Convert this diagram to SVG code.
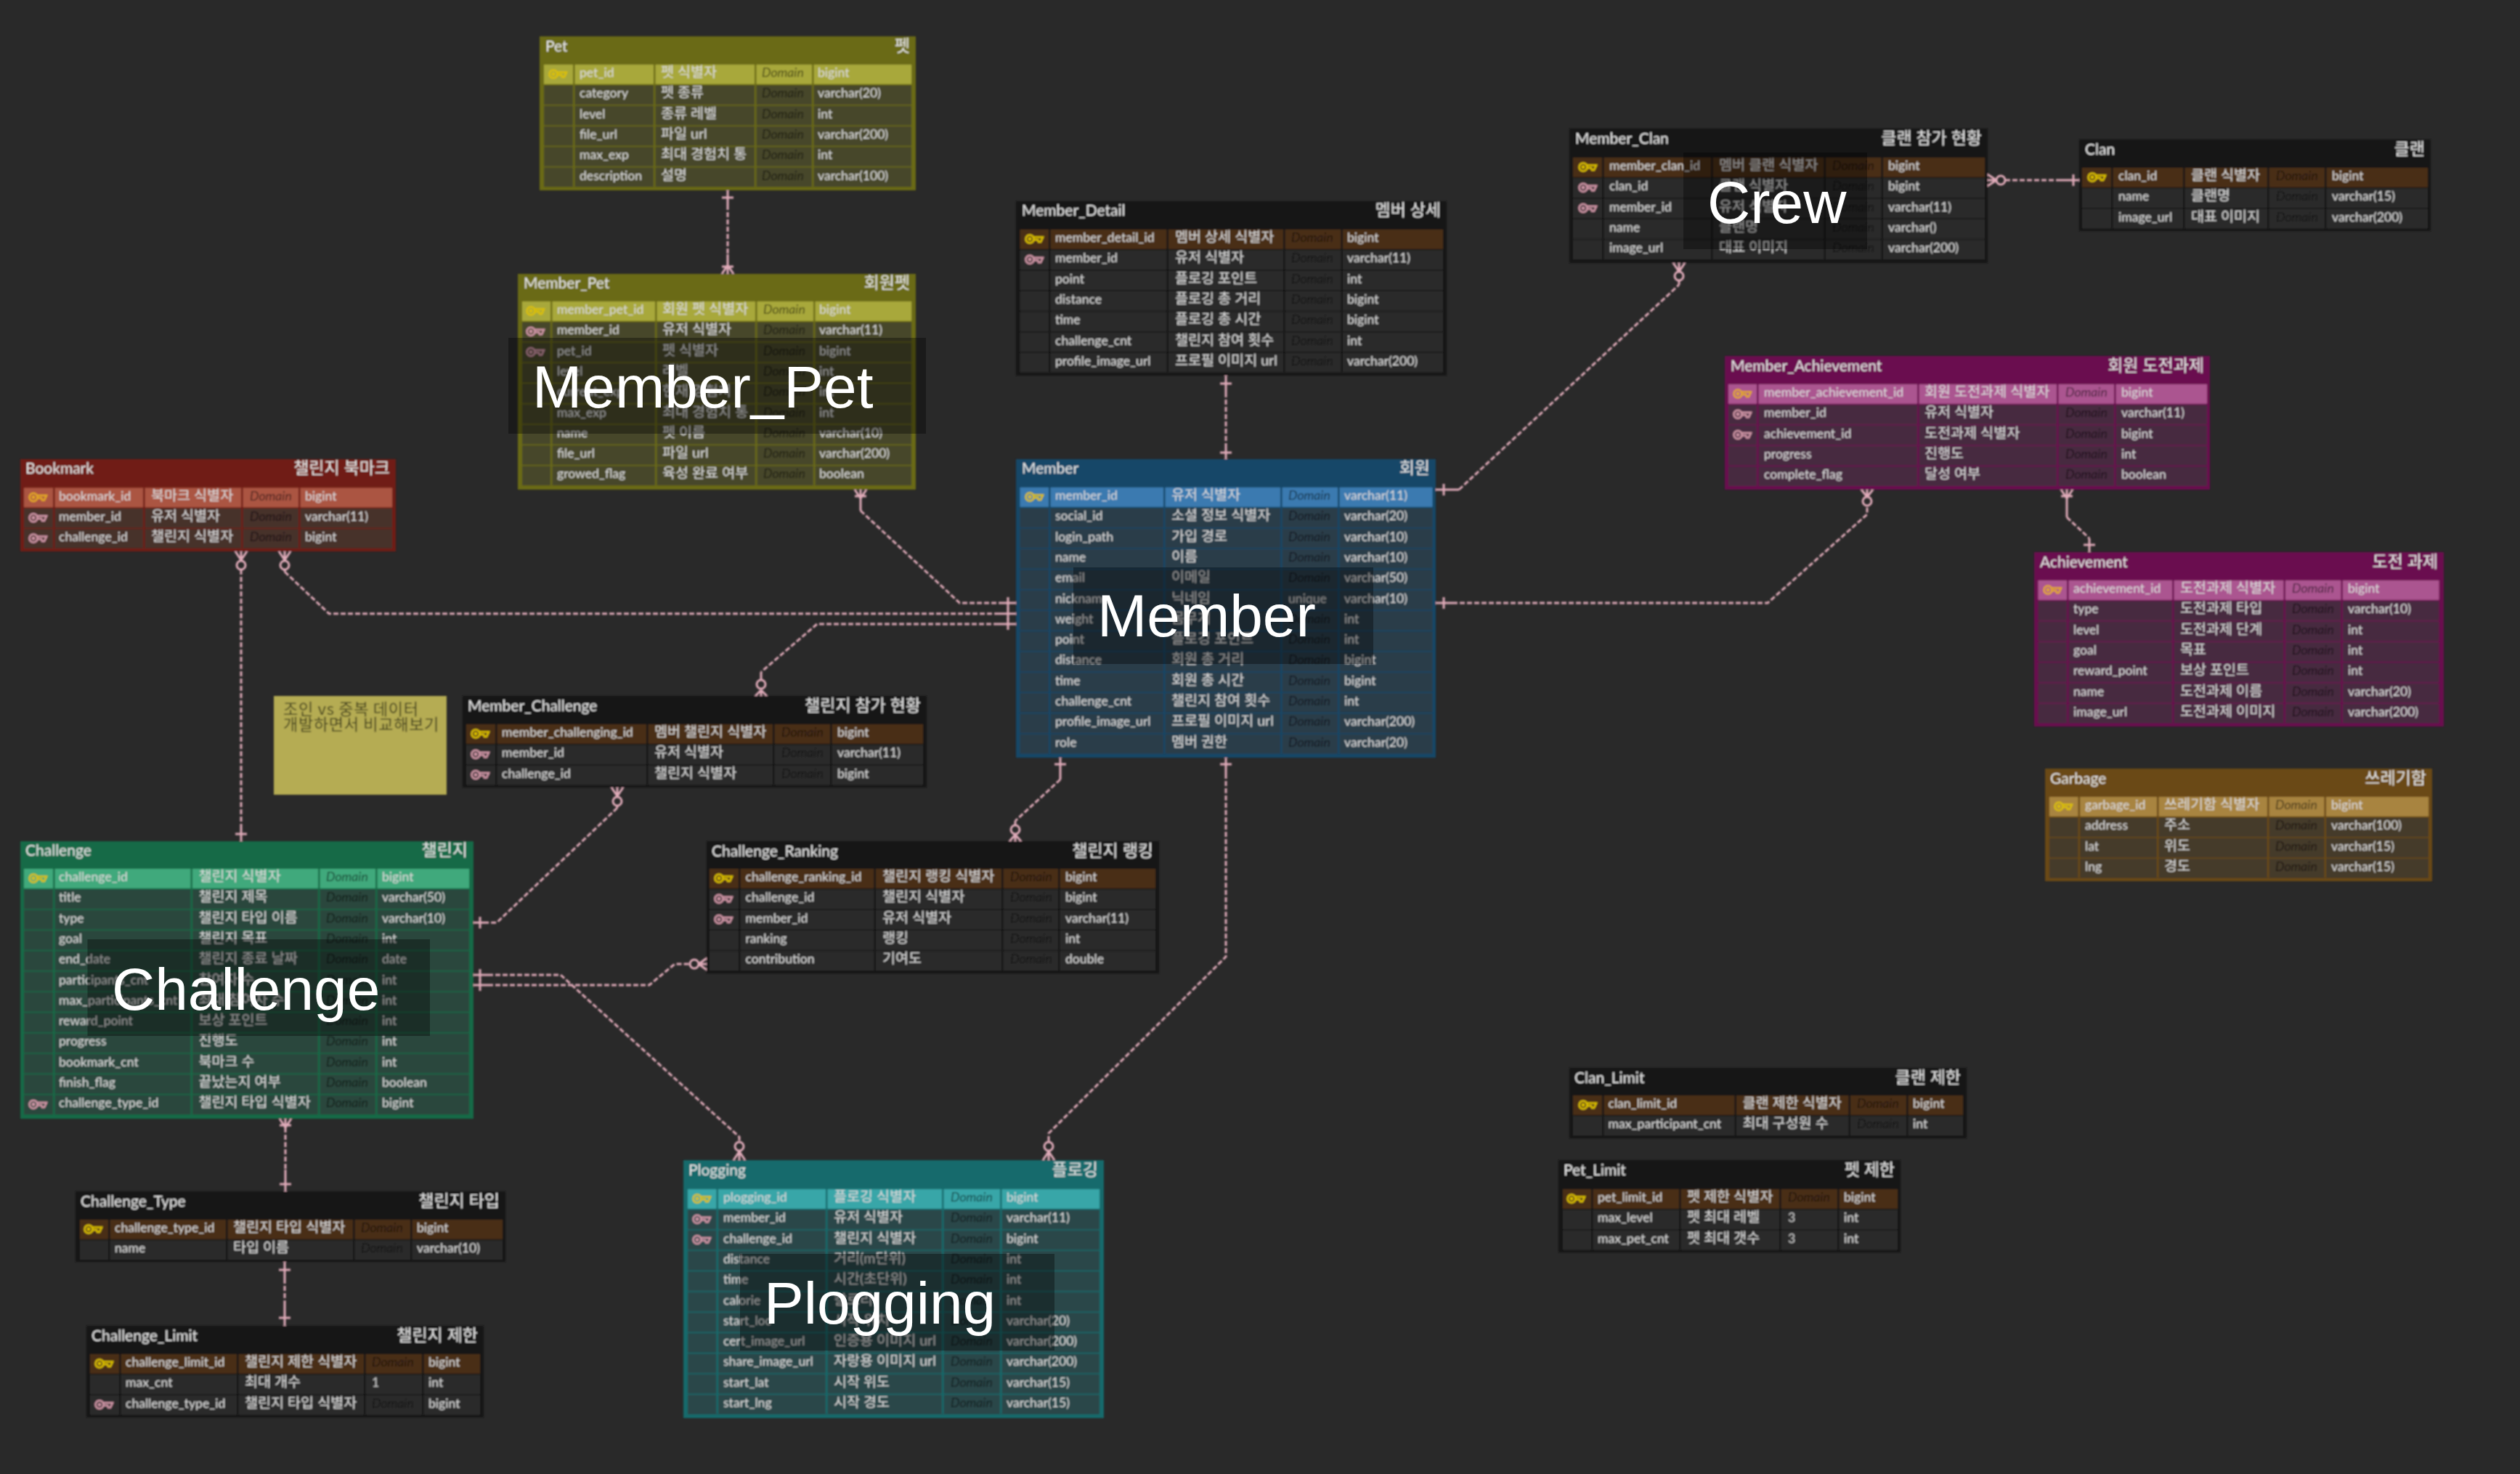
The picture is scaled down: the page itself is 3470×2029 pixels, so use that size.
<svg xmlns="http://www.w3.org/2000/svg" width="3470" height="2029" viewBox="0 0 3470 2029">
<style>
.bg{fill:#292929}
.olive{--h:#6b6a14;--p:#a8a83a;--r:#47472a}
.dark{--h:#181818;--p:#4a2e18;--r:#2c2c2c}
.blue{--h:#144668;--p:#3a7ab0;--r:#2b3c4a}
.plum{--h:#6b114f;--p:#ab5590;--r:#472a40}
.gold{--h:#6a4a12;--p:#a8843f;--r:#453a2a}
.red{--h:#701f12;--p:#ab5443;--r:#47302c}
.green{--h:#166a46;--p:#3fa97c;--r:#2a463c}
.teal{--h:#156a6c;--p:#38a6a8;--r:#2a4648}
.b,.g{fill:var(--h)}
.g{width:2.5px}
.p{fill:var(--p);height:26.8px}
.w{fill:var(--r);height:26.8px}
text{font-family:Lato,"Noto Sans CJK KR",sans-serif;font-size:17.6px;fill:#dcdcdc}
.h{font-size:21px;fill:#e6e6e6}
.e{font-size:23px;fill:#e6e6e6;text-anchor:end}
.k{font-size:19.6px}
.d{font-style:italic;fill:#000;fill-opacity:.6}
.v{fill:#c8c8c8}
.n{font-family:"Noto Sans CJK KR",sans-serif;font-size:22px;letter-spacing:.7px;fill:#3e3c1c}
.c{fill:none;stroke:#e0abb9;stroke-width:3;stroke-dasharray:7 3}
.s{fill:none;stroke:#e0abb9;stroke-width:3}
.cap{fill:#000;fill-opacity:.35}
.big{font-family:"Liberation Sans",sans-serif;font-size:82px;fill:#fff}
</style>
<defs>
<filter id="soft" x="0" y="0" width="3470" height="2029" filterUnits="userSpaceOnUse"><feGaussianBlur stdDeviation="1.1"/></filter>
<g id="kp" fill="none" stroke="#dcc000" stroke-width="2.5"><circle cx="7" cy="7" r="5.5"/><circle cx="7" cy="7" r="1.2"/><path d="M12 4.5H25L22 11H19L18 8H12"/></g>
<g id="ko" fill="none" stroke="#e4a824" stroke-width="2.5"><circle cx="7" cy="7" r="5.5"/><circle cx="7" cy="7" r="1.2"/><path d="M12 4.5H25L22 11H19L18 8H12"/></g>
<g id="kf" fill="none" stroke="#cf95a6" stroke-width="2.5"><circle cx="7" cy="7" r="5.5"/><circle cx="7" cy="7" r="1.2"/><path d="M12 4.5H25L22 11H19L18 8H12"/></g>
</defs>
<rect class="bg" width="3470" height="2029"/>
<g filter="url(#soft)">
<g id="connectors">
<g id="c-pet-memberpet"><path class="c" d="M1002 282V350"/><path class="s" d="M1002 262V282M994 272H1010M1002 350V377M994 367H1010M1002 365L994 377M1002 365L1010 377"/></g>
<g id="c-detail-member"><path class="c" d="M1688 540V610"/><path class="s" d="M1688 517V540M1680 528H1696M1688 610V632M1680 623H1696"/></g>
<g id="c-memberpet-member"><path class="c" d="M1185 703L1321.5 830H1375"/><path class="s" d="M1185 674V703M1177 683H1193M1185 686L1177 674M1185 686L1193 674M1375 830H1399M1388 822V838"/></g>
<g id="c-bookmark-member"><path class="c" d="M392 787L453 844.7H1375"/><path class="s" d="M392 759V771M392 771L384 759M392 771L400 759M392 784V787M1375 844.7H1399M1388 837V853"/><circle class="s" cx="392" cy="778" r="6"/></g>
<g id="c-memberchallenge-member"><path class="c" d="M1375 859H1125L1048 925"/><path class="s" d="M1375 859H1399M1388 851V867M1048 925V936M1048 950V958M1048 950L1040 958M1048 950L1056 958"/><circle class="s" cx="1048" cy="942" r="6"/></g>
<g id="c-bookmark-challenge"><path class="c" d="M332 784V1135"/><path class="s" d="M332 759V771M332 771L324 759M332 771L340 759M332 1135V1158M324 1148H340"/><circle class="s" cx="332" cy="778" r="6"/></g>
<g id="c-memberchallenge-challenge"><path class="c" d="M850 1112L684 1270H672"/><path class="s" d="M850 1084V1096M850 1096L842 1084M850 1096L858 1084M850 1109V1112M672 1270H652M661 1262V1278"/><circle class="s" cx="850" cy="1103" r="6"/></g>
<g id="c-challenge-ranking"><path class="c" d="M672 1356H894L929 1327H950"/><path class="s" d="M652 1356H672M661 1348V1364M962 1327H973M962 1327L973 1319M962 1327L973 1335"/><circle class="s" cx="956" cy="1327" r="6"/></g>
<g id="c-challenge-plogging"><path class="c" d="M672 1342H772L1018 1565V1572"/><path class="s" d="M652 1342H672M661 1334V1350M1018 1585V1597M1018 1585L1010 1597M1018 1585L1026 1597"/><circle class="s" cx="1018" cy="1578" r="6"/></g>
<g id="c-member-plogging"><path class="c" d="M1688 1065V1317L1444 1560V1572"/><path class="s" d="M1688 1043V1065M1680 1052H1696M1444 1585V1597M1444 1585L1436 1597M1444 1585L1452 1597"/><circle class="s" cx="1444" cy="1578" r="6"/></g>
<g id="c-member-ranking"><path class="c" d="M1460 1073L1398 1130"/><path class="s" d="M1460 1043V1073M1452 1052H1468M1398 1130V1136M1398 1149V1158M1398 1149L1390 1158M1398 1149L1406 1158"/><circle class="s" cx="1398" cy="1142" r="6"/></g>
<g id="c-member-memberclan"><path class="c" d="M2009 674L2312 392"/><path class="s" d="M1977 674H2009M1988 666V682M2312 392V386M2312 374V362M2312 374L2304 362M2312 374L2320 362"/><circle class="s" cx="2312" cy="380" r="6"/></g>
<g id="c-member-memberachievement"><path class="c" d="M2000 830H2434L2571 708V696"/><path class="s" d="M1977 830H2000M1988 822V838M2571 684V674M2571 684L2563 674M2571 684L2579 674"/><circle class="s" cx="2571" cy="690" r="6"/></g>
<g id="c-memberachievement-achievement"><path class="c" d="M2846 712L2877 741"/><path class="s" d="M2846 674V712M2838 683H2854M2846 686L2838 674M2846 686L2854 674M2877 741V760M2869 750H2885"/></g>
<g id="c-memberclan-clan"><path class="c" d="M2761 248H2835"/><path class="s" d="M2737 248H2749M2749 248L2737 240M2749 248L2737 256M2835 248H2863M2855 240V256"/><circle class="s" cx="2755" cy="248" r="6"/></g>
<g id="c-challenge-type"><path class="c" d="M393 1552V1610"/><path class="s" d="M393 1540V1552M385 1549H401M393 1552L385 1540M393 1552L401 1540M393 1610V1640M385 1630H401"/></g>
<g id="c-type-limit"><path class="c" d="M392 1760V1795"/><path class="s" d="M392 1737V1760M384 1748H400M392 1795V1825M384 1814H400"/></g>
</g>

<g id="pet" class="olive" transform="translate(743,50)"><rect class="b" width="518" height="212"/><text class="h" x="8" y="21">Pet</text><text class="e" x="510" y="21">펫</text>
<g transform="translate(0,39)"><rect class="p" x="6" width="506" height="26"/><use href="#kp" x="12" y="6"/><text x="55" y="17">pet_id</text><text class="k" x="167" y="17">펫 식별자</text><text class="d" x="306" y="17">Domain</text><text x="383" y="17">bigint</text></g>
<g transform="translate(0,67.3)"><rect class="w" x="6" width="506" height="26"/><text x="55" y="17">category</text><text class="k" x="167" y="17">펫 종류</text><text class="d" x="306" y="17">Domain</text><text x="383" y="17">varchar(20)</text></g>
<g transform="translate(0,95.6)"><rect class="w" x="6" width="506" height="26"/><text x="55" y="17">level</text><text class="k" x="167" y="17">종류 레벨</text><text class="d" x="306" y="17">Domain</text><text x="383" y="17">int</text></g>
<g transform="translate(0,123.9)"><rect class="w" x="6" width="506" height="26"/><text x="55" y="17">file_url</text><text class="k" x="167" y="17">파일 url</text><text class="d" x="306" y="17">Domain</text><text x="383" y="17">varchar(200)</text></g>
<g transform="translate(0,152.2)"><rect class="w" x="6" width="506" height="26"/><text x="55" y="17">max_exp</text><text class="k" x="167" y="17">최대 경험치 통</text><text class="d" x="306" y="17">Domain</text><text x="383" y="17">int</text></g>
<g transform="translate(0,180.5)"><rect class="w" x="6" width="506" height="26"/><text x="55" y="17">description</text><text class="k" x="167" y="17">설명</text><text class="d" x="306" y="17">Domain</text><text x="383" y="17">varchar(100)</text></g>
<rect class="g" x="46" y="39" width="3" height="168"/><rect class="g" x="157" y="39" width="3" height="168"/><rect class="g" x="296" y="39" width="3" height="168"/><rect class="g" x="375" y="39" width="3" height="168"/></g>

<g id="member_pet" class="olive" transform="translate(713,377)"><rect class="b" width="548" height="297"/><text class="h" x="8" y="20">Member_Pet</text><text class="e" x="540" y="20">회원펫</text>
<g transform="translate(0,38)"><rect class="p" x="6" width="536" height="26"/><use href="#kp" x="11" y="6"/><text x="54" y="17">member_pet_id</text><text class="k" x="199" y="17">회원 펫 식별자</text><text class="d" x="338" y="17">Domain</text><text x="415" y="17">bigint</text></g>
<g transform="translate(0,66.3)"><rect class="w" x="6" width="536" height="26"/><use href="#kf" x="11" y="6"/><text x="54" y="17">member_id</text><text class="k" x="199" y="17">유저 식별자</text><text class="d" x="338" y="17">Domain</text><text x="415" y="17">varchar(11)</text></g>
<g transform="translate(0,94.6)"><rect class="w" x="6" width="536" height="26"/><use href="#kf" x="11" y="6"/><text x="54" y="17">pet_id</text><text class="k" x="199" y="17">펫 식별자</text><text class="d" x="338" y="17">Domain</text><text x="415" y="17">bigint</text></g>
<g transform="translate(0,122.9)"><rect class="w" x="6" width="536" height="26"/><text x="54" y="17">level</text><text class="k" x="199" y="17">레벨</text><text class="d" x="338" y="17">Domain</text><text x="415" y="17">int</text></g>
<g transform="translate(0,151.2)"><rect class="w" x="6" width="536" height="26"/><text x="54" y="17">current_exp</text><text class="k" x="199" y="17">현재 경험치</text><text class="d" x="338" y="17">Domain</text><text x="415" y="17">int</text></g>
<g transform="translate(0,179.5)"><rect class="w" x="6" width="536" height="26"/><text x="54" y="17">max_exp</text><text class="k" x="199" y="17">최대 경험치 통</text><text class="d" x="338" y="17">Domain</text><text x="415" y="17">int</text></g>
<g transform="translate(0,207.8)"><rect class="w" x="6" width="536" height="26"/><text x="54" y="17">name</text><text class="k" x="199" y="17">펫 이름</text><text class="d" x="338" y="17">Domain</text><text x="415" y="17">varchar(10)</text></g>
<g transform="translate(0,236.1)"><rect class="w" x="6" width="536" height="26"/><text x="54" y="17">file_url</text><text class="k" x="199" y="17">파일 url</text><text class="d" x="338" y="17">Domain</text><text x="415" y="17">varchar(200)</text></g>
<g transform="translate(0,264.4)"><rect class="w" x="6" width="536" height="26"/><text x="54" y="17">growed_flag</text><text class="k" x="199" y="17">육성 완료 여부</text><text class="d" x="338" y="17">Domain</text><text x="415" y="17">boolean</text></g>
<rect class="g" x="45" y="38" width="3" height="253"/><rect class="g" x="189" y="38" width="3" height="253"/><rect class="g" x="327" y="38" width="3" height="253"/><rect class="g" x="407" y="38" width="3" height="253"/></g>

<g id="member_detail" class="dark" transform="translate(1399,277)"><rect class="b" width="593" height="240"/><text class="h" x="8" y="20">Member_Detail</text><text class="e" x="585" y="20">멤버 상세</text>
<g transform="translate(0,39)"><rect class="p" x="5.5" width="582.5" height="26"/><use href="#kp" x="12" y="6"/><text x="54" y="17">member_detail_id</text><text class="k" x="219" y="17">멤버 상세 식별자</text><text class="d" x="379" y="17">Domain</text><text x="456" y="17">bigint</text></g>
<g transform="translate(0,67.3)"><rect class="w" x="5.5" width="582.5" height="26"/><use href="#kf" x="12" y="6"/><text x="54" y="17">member_id</text><text class="k" x="219" y="17">유저 식별자</text><text class="d" x="379" y="17">Domain</text><text x="456" y="17">varchar(11)</text></g>
<g transform="translate(0,95.6)"><rect class="w" x="5.5" width="582.5" height="26"/><text x="54" y="17">point</text><text class="k" x="219" y="17">플로깅 포인트</text><text class="d" x="379" y="17">Domain</text><text x="456" y="17">int</text></g>
<g transform="translate(0,123.9)"><rect class="w" x="5.5" width="582.5" height="26"/><text x="54" y="17">distance</text><text class="k" x="219" y="17">플로깅 총 거리</text><text class="d" x="379" y="17">Domain</text><text x="456" y="17">bigint</text></g>
<g transform="translate(0,152.2)"><rect class="w" x="5.5" width="582.5" height="26"/><text x="54" y="17">time</text><text class="k" x="219" y="17">플로깅 총 시간</text><text class="d" x="379" y="17">Domain</text><text x="456" y="17">bigint</text></g>
<g transform="translate(0,180.5)"><rect class="w" x="5.5" width="582.5" height="26"/><text x="54" y="17">challenge_cnt</text><text class="k" x="219" y="17">챌린지 참여 횟수</text><text class="d" x="379" y="17">Domain</text><text x="456" y="17">int</text></g>
<g transform="translate(0,208.8)"><rect class="w" x="5.5" width="582.5" height="26"/><text x="54" y="17">profile_image_url</text><text class="k" x="219" y="17">프로필 이미지 url</text><text class="d" x="379" y="17">Domain</text><text x="456" y="17">varchar(200)</text></g>
<rect class="g" x="45" y="39" width="3" height="196"/><rect class="g" x="207.5" y="39" width="4" height="196"/><rect class="g" x="368" y="39" width="3" height="196"/><rect class="g" x="447.5" y="39" width="3" height="196"/></g>

<g id="member" class="blue" transform="translate(1399,632)"><rect class="b" width="578" height="411"/><text class="h" x="8" y="20">Member</text><text class="e" x="570" y="20">회원</text>
<g transform="translate(0,39)"><rect class="p" x="5.5" width="568" height="26"/><use href="#kp" x="12" y="6"/><text x="54" y="17">member_id</text><text class="k" x="214" y="17">유저 식별자</text><text class="d" x="375" y="17">Domain</text><text x="452" y="17">varchar(11)</text></g>
<g transform="translate(0,67.3)"><rect class="w" x="5.5" width="568" height="26"/><text x="54" y="17">social_id</text><text class="k" x="214" y="17">소셜 정보 식별자</text><text class="d" x="375" y="17">Domain</text><text x="452" y="17">varchar(20)</text></g>
<g transform="translate(0,95.6)"><rect class="w" x="5.5" width="568" height="26"/><text x="54" y="17">login_path</text><text class="k" x="214" y="17">가입 경로</text><text class="d" x="375" y="17">Domain</text><text x="452" y="17">varchar(10)</text></g>
<g transform="translate(0,123.9)"><rect class="w" x="5.5" width="568" height="26"/><text x="54" y="17">name</text><text class="k" x="214" y="17">이름</text><text class="d" x="375" y="17">Domain</text><text x="452" y="17">varchar(10)</text></g>
<g transform="translate(0,152.2)"><rect class="w" x="5.5" width="568" height="26"/><text x="54" y="17">email</text><text class="k" x="214" y="17">이메일</text><text class="d" x="375" y="17">Domain</text><text x="452" y="17">varchar(50)</text></g>
<g transform="translate(0,180.5)"><rect class="w" x="5.5" width="568" height="26"/><text x="54" y="17">nickname</text><text class="k" x="214" y="17">닉네임</text><text class="v" x="375" y="17">unique</text><text x="452" y="17">varchar(10)</text></g>
<g transform="translate(0,208.8)"><rect class="w" x="5.5" width="568" height="26"/><text x="54" y="17">weight</text><text class="k" x="214" y="17">몸무게</text><text class="d" x="375" y="17">Domain</text><text x="452" y="17">int</text></g>
<g transform="translate(0,237.1)"><rect class="w" x="5.5" width="568" height="26"/><text x="54" y="17">point</text><text class="k" x="214" y="17">플로깅 포인트</text><text class="d" x="375" y="17">Domain</text><text x="452" y="17">int</text></g>
<g transform="translate(0,265.4)"><rect class="w" x="5.5" width="568" height="26"/><text x="54" y="17">distance</text><text class="k" x="214" y="17">회원 총 거리</text><text class="d" x="375" y="17">Domain</text><text x="452" y="17">bigint</text></g>
<g transform="translate(0,293.7)"><rect class="w" x="5.5" width="568" height="26"/><text x="54" y="17">time</text><text class="k" x="214" y="17">회원 총 시간</text><text class="d" x="375" y="17">Domain</text><text x="452" y="17">bigint</text></g>
<g transform="translate(0,322)"><rect class="w" x="5.5" width="568" height="26"/><text x="54" y="17">challenge_cnt</text><text class="k" x="214" y="17">챌린지 참여 횟수</text><text class="d" x="375" y="17">Domain</text><text x="452" y="17">int</text></g>
<g transform="translate(0,350.3)"><rect class="w" x="5.5" width="568" height="26"/><text x="54" y="17">profile_image_url</text><text class="k" x="214" y="17">프로필 이미지 url</text><text class="d" x="375" y="17">Domain</text><text x="452" y="17">varchar(200)</text></g>
<g transform="translate(0,378.6)"><rect class="w" x="5.5" width="568" height="26"/><text x="54" y="17">role</text><text class="k" x="214" y="17">멤버 권한</text><text class="d" x="375" y="17">Domain</text><text x="452" y="17">varchar(20)</text></g>
<rect class="g" x="45" y="39" width="3" height="366"/><rect class="g" x="203" y="39" width="4" height="366"/><rect class="g" x="364" y="39" width="3" height="366"/><rect class="g" x="443" y="39" width="3" height="366"/></g>

<g id="member_clan" class="dark" transform="translate(2161,177)"><rect class="b" width="576" height="185"/><text class="h" x="8" y="21">Member_Clan</text><text class="e" x="568" y="21">클랜 참가 현황</text>
<g transform="translate(0,40)"><rect class="p" x="5" width="567" height="26"/><use href="#kp" x="12" y="6"/><text x="55" y="17">member_clan_id</text><text class="k" x="206" y="17">멤버 클랜 식별자</text><text class="d" x="362" y="17">Domain</text><text x="439" y="17">bigint</text></g>
<g transform="translate(0,68.3)"><rect class="w" x="5" width="567" height="26"/><use href="#kf" x="12" y="6"/><text x="55" y="17">clan_id</text><text class="k" x="206" y="17">클랜 식별자</text><text class="d" x="362" y="17">Domain</text><text x="439" y="17">bigint</text></g>
<g transform="translate(0,96.6)"><rect class="w" x="5" width="567" height="26"/><use href="#kf" x="12" y="6"/><text x="55" y="17">member_id</text><text class="k" x="206" y="17">유저 식별자</text><text class="d" x="362" y="17">Domain</text><text x="439" y="17">varchar(11)</text></g>
<g transform="translate(0,124.9)"><rect class="w" x="5" width="567" height="26"/><text x="55" y="17">name</text><text class="k" x="206" y="17">클랜명</text><text class="d" x="362" y="17">Domain</text><text x="439" y="17">varchar()</text></g>
<g transform="translate(0,153.2)"><rect class="w" x="5" width="567" height="26"/><text x="55" y="17">image_url</text><text class="k" x="206" y="17">대표 이미지</text><text class="d" x="362" y="17">Domain</text><text x="439" y="17">varchar(200)</text></g>
<rect class="g" x="45" y="40" width="3" height="140"/><rect class="g" x="195" y="40" width="4" height="140"/><rect class="g" x="350.5" y="40" width="4" height="140"/><rect class="g" x="429.5" y="40" width="4" height="140"/></g>

<g id="clan" class="dark" transform="translate(2863,192)"><rect class="b" width="484" height="126"/><text class="h" x="8" y="21">Clan</text><text class="e" x="476" y="21">클랜</text>
<g transform="translate(0,39)"><rect class="p" x="4" width="476" height="26"/><use href="#kp" x="11" y="6"/><text x="54" y="17">clan_id</text><text class="k" x="154" y="17">클랜 식별자</text><text class="d" x="271" y="17">Domain</text><text x="348" y="17">bigint</text></g>
<g transform="translate(0,67.3)"><rect class="w" x="4" width="476" height="26"/><text x="54" y="17">name</text><text class="k" x="154" y="17">클랜명</text><text class="d" x="271" y="17">Domain</text><text x="348" y="17">varchar(15)</text></g>
<g transform="translate(0,95.6)"><rect class="w" x="4" width="476" height="26"/><text x="54" y="17">image_url</text><text class="k" x="154" y="17">대표 이미지</text><text class="d" x="271" y="17">Domain</text><text x="348" y="17">varchar(200)</text></g>
<rect class="g" x="44" y="39" width="3" height="83"/><rect class="g" x="143" y="39" width="4" height="83"/><rect class="g" x="259" y="39" width="4" height="83"/><rect class="g" x="338" y="39" width="4" height="83"/></g>

<g id="member_achievement" class="plum" transform="translate(2375,490)"><rect class="b" width="668" height="184"/><text class="h" x="8" y="21">Member_Achievement</text><text class="e" x="660" y="21">회원 도전과제</text>
<g transform="translate(0,39)"><rect class="p" x="5" width="659" height="26"/><use href="#ko" x="11" y="6"/><text x="54" y="17">member_achievement_id</text><text class="k" x="275" y="17">회원 도전과제 식별자</text><text class="d" x="469" y="17">Domain</text><text x="546" y="17">bigint</text></g>
<g transform="translate(0,67.3)"><rect class="w" x="5" width="659" height="26"/><use href="#kf" x="11" y="6"/><text x="54" y="17">member_id</text><text class="k" x="275" y="17">유저 식별자</text><text class="d" x="469" y="17">Domain</text><text x="546" y="17">varchar(11)</text></g>
<g transform="translate(0,95.6)"><rect class="w" x="5" width="659" height="26"/><use href="#kf" x="11" y="6"/><text x="54" y="17">achievement_id</text><text class="k" x="275" y="17">도전과제 식별자</text><text class="d" x="469" y="17">Domain</text><text x="546" y="17">bigint</text></g>
<g transform="translate(0,123.9)"><rect class="w" x="5" width="659" height="26"/><text x="54" y="17">progress</text><text class="k" x="275" y="17">진행도</text><text class="d" x="469" y="17">Domain</text><text x="546" y="17">int</text></g>
<g transform="translate(0,152.2)"><rect class="w" x="5" width="659" height="26"/><text x="54" y="17">complete_flag</text><text class="k" x="275" y="17">달성 여부</text><text class="d" x="469" y="17">Domain</text><text x="546" y="17">boolean</text></g>
<rect class="g" x="44" y="39" width="3" height="140"/><rect class="g" x="265" y="39" width="4" height="140"/><rect class="g" x="457" y="39" width="4" height="140"/><rect class="g" x="536" y="39" width="4" height="140"/></g>

<g id="achievement" class="plum" transform="translate(2801,760)"><rect class="b" width="564" height="240"/><text class="h" x="8" y="21">Achievement</text><text class="e" x="556" y="21">도전 과제</text>
<g transform="translate(0,39)"><rect class="p" x="5.5" width="552" height="26"/><use href="#ko" x="12" y="6"/><text x="54" y="17">achievement_id</text><text class="k" x="201" y="17">도전과제 식별자</text><text class="d" x="355" y="17">Domain</text><text x="432" y="17">bigint</text></g>
<g transform="translate(0,67.3)"><rect class="w" x="5.5" width="552" height="26"/><text x="54" y="17">type</text><text class="k" x="201" y="17">도전과제 타입</text><text class="d" x="355" y="17">Domain</text><text x="432" y="17">varchar(10)</text></g>
<g transform="translate(0,95.6)"><rect class="w" x="5.5" width="552" height="26"/><text x="54" y="17">level</text><text class="k" x="201" y="17">도전과제 단계</text><text class="d" x="355" y="17">Domain</text><text x="432" y="17">int</text></g>
<g transform="translate(0,123.9)"><rect class="w" x="5.5" width="552" height="26"/><text x="54" y="17">goal</text><text class="k" x="201" y="17">목표</text><text class="d" x="355" y="17">Domain</text><text x="432" y="17">int</text></g>
<g transform="translate(0,152.2)"><rect class="w" x="5.5" width="552" height="26"/><text x="54" y="17">reward_point</text><text class="k" x="201" y="17">보상 포인트</text><text class="d" x="355" y="17">Domain</text><text x="432" y="17">int</text></g>
<g transform="translate(0,180.5)"><rect class="w" x="5.5" width="552" height="26"/><text x="54" y="17">name</text><text class="k" x="201" y="17">도전과제 이름</text><text class="d" x="355" y="17">Domain</text><text x="432" y="17">varchar(20)</text></g>
<g transform="translate(0,208.8)"><rect class="w" x="5.5" width="552" height="26"/><text x="54" y="17">image_url</text><text class="k" x="201" y="17">도전과제 이미지</text><text class="d" x="355" y="17">Domain</text><text x="432" y="17">varchar(200)</text></g>
<rect class="g" x="45" y="39" width="3" height="196"/><rect class="g" x="190" y="39" width="4" height="196"/><rect class="g" x="343.5" y="39" width="4" height="196"/><rect class="g" x="422.5" y="39" width="4" height="196"/></g>

<g id="garbage" class="gold" transform="translate(2816,1058)"><rect class="b" width="533" height="155"/><text class="h" x="7" y="21">Garbage</text><text class="e" x="525" y="21">쓰레기함</text>
<g transform="translate(0,39)"><rect class="p" x="6" width="522" height="26"/><use href="#kp" x="12" y="6"/><text x="55" y="17">garbage_id</text><text class="k" x="164" y="17">쓰레기함 식별자</text><text class="d" x="317" y="17">Domain</text><text x="394" y="17">bigint</text></g>
<g transform="translate(0,67.3)"><rect class="w" x="6" width="522" height="26"/><text x="55" y="17">address</text><text class="k" x="164" y="17">주소</text><text class="d" x="317" y="17">Domain</text><text x="394" y="17">varchar(100)</text></g>
<g transform="translate(0,95.6)"><rect class="w" x="6" width="522" height="26"/><text x="55" y="17">lat</text><text class="k" x="164" y="17">위도</text><text class="d" x="317" y="17">Domain</text><text x="394" y="17">varchar(15)</text></g>
<g transform="translate(0,123.9)"><rect class="w" x="6" width="522" height="26"/><text x="55" y="17">lng</text><text class="k" x="164" y="17">경도</text><text class="d" x="317" y="17">Domain</text><text x="394" y="17">varchar(15)</text></g>
<rect class="g" x="45.6" y="39" width="3" height="111"/><rect class="g" x="154" y="39" width="3" height="111"/><rect class="g" x="306" y="39" width="3" height="111"/><rect class="g" x="384.5" y="39" width="4" height="111"/></g>

<g id="bookmark" class="red" transform="translate(28,632)"><rect class="b" width="517" height="127"/><text class="h" x="7" y="20">Bookmark</text><text class="e" x="509" y="20">챌린지 북마크</text>
<g transform="translate(0,39.5)"><rect class="p" x="5" width="507" height="26"/><use href="#ko" x="11" y="6"/><text x="53" y="17">bookmark_id</text><text class="k" x="180" y="17">북마크 식별자</text><text class="d" x="316" y="17">Domain</text><text x="392" y="17">bigint</text></g>
<g transform="translate(0,67.8)"><rect class="w" x="5" width="507" height="26"/><use href="#kf" x="11" y="6"/><text x="53" y="17">member_id</text><text class="k" x="180" y="17">유저 식별자</text><text class="d" x="316" y="17">Domain</text><text x="392" y="17">varchar(11)</text></g>
<g transform="translate(0,96.1)"><rect class="w" x="5" width="507" height="26"/><use href="#kf" x="11" y="6"/><text x="53" y="17">challenge_id</text><text class="k" x="180" y="17">챌린지 식별자</text><text class="d" x="316" y="17">Domain</text><text x="392" y="17">bigint</text></g>
<rect class="g" x="45" y="39.5" width="3" height="83"/><rect class="g" x="169" y="39.5" width="4" height="83"/><rect class="g" x="304" y="39.5" width="4" height="83"/><rect class="g" x="383" y="39.5" width="3" height="83"/></g>

<g id="challenge" class="green" transform="translate(28,1158)"><rect class="b" width="624" height="382"/><text class="h" x="7" y="20">Challenge</text><text class="e" x="616" y="20">챌린지</text>
<g transform="translate(0,38)"><rect class="p" x="5" width="613" height="26"/><use href="#kp" x="11" y="6"/><text x="53" y="17">challenge_id</text><text class="k" x="245.5" y="17">챌린지 식별자</text><text class="d" x="421" y="17">Domain</text><text x="498" y="17">bigint</text></g>
<g transform="translate(0,66.3)"><rect class="w" x="5" width="613" height="26"/><text x="53" y="17">title</text><text class="k" x="245.5" y="17">챌린지 제목</text><text class="d" x="421" y="17">Domain</text><text x="498" y="17">varchar(50)</text></g>
<g transform="translate(0,94.6)"><rect class="w" x="5" width="613" height="26"/><text x="53" y="17">type</text><text class="k" x="245.5" y="17">챌린지 타입 이름</text><text class="d" x="421" y="17">Domain</text><text x="498" y="17">varchar(10)</text></g>
<g transform="translate(0,122.9)"><rect class="w" x="5" width="613" height="26"/><text x="53" y="17">goal</text><text class="k" x="245.5" y="17">챌린지 목표</text><text class="d" x="421" y="17">Domain</text><text x="498" y="17">int</text></g>
<g transform="translate(0,151.2)"><rect class="w" x="5" width="613" height="26"/><text x="53" y="17">end_date</text><text class="k" x="245.5" y="17">챌린지 종료 날짜</text><text class="d" x="421" y="17">Domain</text><text x="498" y="17">date</text></g>
<g transform="translate(0,179.5)"><rect class="w" x="5" width="613" height="26"/><text x="53" y="17">participants_cnt</text><text class="k" x="245.5" y="17">참여자 수</text><text class="d" x="421" y="17">Domain</text><text x="498" y="17">int</text></g>
<g transform="translate(0,207.8)"><rect class="w" x="5" width="613" height="26"/><text x="53" y="17">max_participants_cnt</text><text class="k" x="245.5" y="17">최대 참여자 수</text><text class="d" x="421" y="17">Domain</text><text x="498" y="17">int</text></g>
<g transform="translate(0,236.1)"><rect class="w" x="5" width="613" height="26"/><text x="53" y="17">reward_point</text><text class="k" x="245.5" y="17">보상 포인트</text><text class="d" x="421" y="17">Domain</text><text x="498" y="17">int</text></g>
<g transform="translate(0,264.4)"><rect class="w" x="5" width="613" height="26"/><text x="53" y="17">progress</text><text class="k" x="245.5" y="17">진행도</text><text class="d" x="421" y="17">Domain</text><text x="498" y="17">int</text></g>
<g transform="translate(0,292.7)"><rect class="w" x="5" width="613" height="26"/><text x="53" y="17">bookmark_cnt</text><text class="k" x="245.5" y="17">북마크 수</text><text class="d" x="421" y="17">Domain</text><text x="498" y="17">int</text></g>
<g transform="translate(0,321)"><rect class="w" x="5" width="613" height="26"/><text x="53" y="17">finish_flag</text><text class="k" x="245.5" y="17">끝났는지 여부</text><text class="d" x="421" y="17">Domain</text><text x="498" y="17">boolean</text></g>
<g transform="translate(0,349.3)"><rect class="w" x="5" width="613" height="26"/><use href="#kf" x="11" y="6"/><text x="53" y="17">challenge_type_id</text><text class="k" x="245.5" y="17">챌린지 타입 식별자</text><text class="d" x="421" y="17">Domain</text><text x="498" y="17">bigint</text></g>
<rect class="g" x="45" y="38" width="3" height="338"/><rect class="g" x="234.5" y="38" width="4" height="338"/><rect class="g" x="410" y="38" width="3" height="338"/><rect class="g" x="489" y="38" width="3" height="338"/></g>

<g id="note"><rect x="377" y="958" width="238" height="136" fill="#b5ac52"/><text class="n" x="390" y="984">조인 vs 중복 데이터</text><text class="n" x="390" y="1005">개발하면서 비교해보기</text></g>

<g id="member_challenge" class="dark" transform="translate(637,958)"><rect class="b" width="639" height="126"/><text class="h" x="7" y="21">Member_Challenge</text><text class="e" x="631" y="21">챌린지 참가 현황</text>
<g transform="translate(0,39)"><rect class="p" x="5" width="629" height="26"/><use href="#kp" x="11" y="6"/><text x="54" y="17">member_challenging_id</text><text class="k" x="264" y="17">멤버 챌린지 식별자</text><text class="d" x="439" y="17">Domain</text><text x="516" y="17">bigint</text></g>
<g transform="translate(0,67.3)"><rect class="w" x="5" width="629" height="26"/><use href="#kf" x="11" y="6"/><text x="54" y="17">member_id</text><text class="k" x="264" y="17">유저 식별자</text><text class="d" x="439" y="17">Domain</text><text x="516" y="17">varchar(11)</text></g>
<g transform="translate(0,95.6)"><rect class="w" x="5" width="629" height="26"/><use href="#kf" x="11" y="6"/><text x="54" y="17">challenge_id</text><text class="k" x="264" y="17">챌린지 식별자</text><text class="d" x="439" y="17">Domain</text><text x="516" y="17">bigint</text></g>
<rect class="g" x="45" y="39" width="3" height="83"/><rect class="g" x="253" y="39" width="4" height="83"/><rect class="g" x="427" y="39" width="4" height="83"/><rect class="g" x="506" y="39" width="4" height="83"/></g>

<g id="challenge_ranking" class="dark" transform="translate(973,1158)"><rect class="b" width="623" height="182"/><text class="h" x="7" y="21">Challenge_Ranking</text><text class="e" x="615" y="21">챌린지 랭킹</text>
<g transform="translate(0,38)"><rect class="p" x="4" width="614" height="26"/><use href="#kp" x="10" y="6"/><text x="53.5" y="17">challenge_ranking_id</text><text class="k" x="242" y="17">챌린지 랭킹 식별자</text><text class="d" x="418" y="17">Domain</text><text x="494" y="17">bigint</text></g>
<g transform="translate(0,66.3)"><rect class="w" x="4" width="614" height="26"/><use href="#kf" x="10" y="6"/><text x="53.5" y="17">challenge_id</text><text class="k" x="242" y="17">챌린지 식별자</text><text class="d" x="418" y="17">Domain</text><text x="494" y="17">bigint</text></g>
<g transform="translate(0,94.6)"><rect class="w" x="4" width="614" height="26"/><use href="#kf" x="10" y="6"/><text x="53.5" y="17">member_id</text><text class="k" x="242" y="17">유저 식별자</text><text class="d" x="418" y="17">Domain</text><text x="494" y="17">varchar(11)</text></g>
<g transform="translate(0,122.9)"><rect class="w" x="4" width="614" height="26"/><text x="53.5" y="17">ranking</text><text class="k" x="242" y="17">랭킹</text><text class="d" x="418" y="17">Domain</text><text x="494" y="17">int</text></g>
<g transform="translate(0,151.2)"><rect class="w" x="4" width="614" height="26"/><text x="53.5" y="17">contribution</text><text class="k" x="242" y="17">기여도</text><text class="d" x="418" y="17">Domain</text><text x="494" y="17">double</text></g>
<rect class="g" x="44" y="38" width="3" height="140"/><rect class="g" x="230.5" y="38" width="4" height="140"/><rect class="g" x="406" y="38" width="4" height="140"/><rect class="g" x="484" y="38" width="4" height="140"/></g>

<g id="challenge_type" class="dark" transform="translate(104,1640)"><rect class="b" width="592" height="97"/><text class="h" x="7" y="21">Challenge_Type</text><text class="e" x="584" y="21">챌린지 타입</text>
<g transform="translate(0,39)"><rect class="p" x="6" width="582" height="26"/><use href="#kp" x="11" y="6"/><text x="54" y="17">challenge_type_id</text><text class="k" x="217" y="17">챌린지 타입 식별자</text><text class="d" x="393" y="17">Domain</text><text x="470" y="17">bigint</text></g>
<g transform="translate(0,67.3)"><rect class="w" x="6" width="582" height="26"/><text x="54" y="17">name</text><text class="k" x="217" y="17">타입 이름</text><text class="d" x="393" y="17">Domain</text><text x="470" y="17">varchar(10)</text></g>
<rect class="g" x="45" y="39" width="3" height="55"/><rect class="g" x="207" y="39" width="3" height="55"/><rect class="g" x="382" y="39" width="3" height="55"/><rect class="g" x="461" y="39" width="3" height="55"/></g>

<g id="challenge_limit" class="dark" transform="translate(119,1825)"><rect class="b" width="547" height="126"/><text class="h" x="7" y="21">Challenge_Limit</text><text class="e" x="539" y="21">챌린지 제한</text>
<g transform="translate(0,39)"><rect class="p" x="5" width="537" height="26"/><use href="#kp" x="11" y="6"/><text x="54" y="17">challenge_limit_id</text><text class="k" x="218" y="17">챌린지 제한 식별자</text><text class="d" x="393" y="17">Domain</text><text x="471" y="17">bigint</text></g>
<g transform="translate(0,67.3)"><rect class="w" x="5" width="537" height="26"/><text x="54" y="17">max_cnt</text><text class="k" x="218" y="17">최대 개수</text><text class="v" x="393" y="17">1</text><text x="471" y="17">int</text></g>
<g transform="translate(0,95.6)"><rect class="w" x="5" width="537" height="26"/><use href="#kf" x="11" y="6"/><text x="54" y="17">challenge_type_id</text><text class="k" x="218" y="17">챌린지 타입 식별자</text><text class="d" x="393" y="17">Domain</text><text x="471" y="17">bigint</text></g>
<rect class="g" x="45" y="39" width="3" height="83"/><rect class="g" x="207" y="39" width="3" height="83"/><rect class="g" x="382" y="39" width="3" height="83"/><rect class="g" x="462" y="39" width="3" height="83"/></g>

<g id="plogging" class="teal" transform="translate(941,1597)"><rect class="b" width="579" height="355"/><text class="h" x="7" y="21">Plogging</text><text class="e" x="571" y="21">플로깅</text>
<g transform="translate(0,40)"><rect class="p" x="6" width="567" height="26"/><use href="#kp" x="12" y="6"/><text x="55" y="17">plogging_id</text><text class="k" x="207" y="17">플로깅 식별자</text><text class="d" x="368" y="17">Domain</text><text x="445" y="17">bigint</text></g>
<g transform="translate(0,68.3)"><rect class="w" x="6" width="567" height="26"/><use href="#kf" x="12" y="6"/><text x="55" y="17">member_id</text><text class="k" x="207" y="17">유저 식별자</text><text class="d" x="368" y="17">Domain</text><text x="445" y="17">varchar(11)</text></g>
<g transform="translate(0,96.6)"><rect class="w" x="6" width="567" height="26"/><use href="#kf" x="12" y="6"/><text x="55" y="17">challenge_id</text><text class="k" x="207" y="17">챌린지 식별자</text><text class="d" x="368" y="17">Domain</text><text x="445" y="17">bigint</text></g>
<g transform="translate(0,124.9)"><rect class="w" x="6" width="567" height="26"/><text x="55" y="17">distance</text><text class="k" x="207" y="17">거리(m단위)</text><text class="d" x="368" y="17">Domain</text><text x="445" y="17">int</text></g>
<g transform="translate(0,153.2)"><rect class="w" x="6" width="567" height="26"/><text x="55" y="17">time</text><text class="k" x="207" y="17">시간(초단위)</text><text class="d" x="368" y="17">Domain</text><text x="445" y="17">int</text></g>
<g transform="translate(0,181.5)"><rect class="w" x="6" width="567" height="26"/><text x="55" y="17">calorie</text><text class="k" x="207" y="17">칼로리</text><text class="d" x="368" y="17">Domain</text><text x="445" y="17">int</text></g>
<g transform="translate(0,209.8)"><rect class="w" x="6" width="567" height="26"/><text x="55" y="17">start_loc</text><text class="k" x="207" y="17">시작 위치</text><text class="d" x="368" y="17">Domain</text><text x="445" y="17">varchar(20)</text></g>
<g transform="translate(0,238.1)"><rect class="w" x="6" width="567" height="26"/><text x="55" y="17">cert_image_url</text><text class="k" x="207" y="17">인증용 이미지 url</text><text class="d" x="368" y="17">Domain</text><text x="445" y="17">varchar(200)</text></g>
<g transform="translate(0,266.4)"><rect class="w" x="6" width="567" height="26"/><text x="55" y="17">share_image_url</text><text class="k" x="207" y="17">자랑용 이미지 url</text><text class="d" x="368" y="17">Domain</text><text x="445" y="17">varchar(200)</text></g>
<g transform="translate(0,294.7)"><rect class="w" x="6" width="567" height="26"/><text x="55" y="17">start_lat</text><text class="k" x="207" y="17">시작 위도</text><text class="d" x="368" y="17">Domain</text><text x="445" y="17">varchar(15)</text></g>
<g transform="translate(0,323)"><rect class="w" x="6" width="567" height="26"/><text x="55" y="17">start_lng</text><text class="k" x="207" y="17">시작 경도</text><text class="d" x="368" y="17">Domain</text><text x="445" y="17">varchar(15)</text></g>
<rect class="g" x="45.5" y="40" width="3" height="309"/><rect class="g" x="196" y="40" width="4" height="309"/><rect class="g" x="356" y="40" width="4" height="309"/><rect class="g" x="436" y="40" width="3" height="309"/></g>

<g id="clan_limit" class="dark" transform="translate(2161,1470)"><rect class="b" width="547" height="97"/><text class="h" x="7" y="21">Clan_Limit</text><text class="e" x="539" y="21">클랜 제한</text>
<g transform="translate(0,38)"><rect class="p" x="5" width="537" height="26"/><use href="#kp" x="12" y="6"/><text x="53.5" y="17">clan_limit_id</text><text class="k" x="238.5" y="17">클랜 제한 식별자</text><text class="d" x="396" y="17">Domain</text><text x="473" y="17">bigint</text></g>
<g transform="translate(0,66.3)"><rect class="w" x="5" width="537" height="26"/><text x="53.5" y="17">max_participant_cnt</text><text class="k" x="238.5" y="17">최대 구성원 수</text><text class="d" x="396" y="17">Domain</text><text x="473" y="17">int</text></g>
<rect class="g" x="45" y="38" width="3" height="55"/><rect class="g" x="227.5" y="38" width="4" height="55"/><rect class="g" x="384.5" y="38" width="3" height="55"/><rect class="g" x="464" y="38" width="3" height="55"/></g>

<g id="pet_limit" class="dark" transform="translate(2146,1597)"><rect class="b" width="471" height="127"/><text class="h" x="7" y="21">Pet_Limit</text><text class="e" x="463" y="21">펫 제한</text>
<g transform="translate(0,40)"><rect class="p" x="6" width="461" height="26"/><use href="#kp" x="11" y="6"/><text x="54" y="17">pet_limit_id</text><text class="k" x="177" y="17">펫 제한 식별자</text><text class="d" x="316" y="17">Domain</text><text x="393" y="17">bigint</text></g>
<g transform="translate(0,68.3)"><rect class="w" x="6" width="461" height="26"/><text x="54" y="17">max_level</text><text class="k" x="177" y="17">펫 최대 레벨</text><text class="v" x="316" y="17">3</text><text x="393" y="17">int</text></g>
<g transform="translate(0,96.6)"><rect class="w" x="6" width="461" height="26"/><text x="54" y="17">max_pet_cnt</text><text class="k" x="177" y="17">펫 최대 갯수</text><text class="v" x="316" y="17">3</text><text x="393" y="17">int</text></g>
<rect class="g" x="45" y="40" width="3" height="83"/><rect class="g" x="166" y="40" width="4" height="83"/><rect class="g" x="304" y="40" width="4" height="83"/><rect class="g" x="384" y="40" width="3" height="83"/></g>
</g>

<g id="captions">
<rect class="cap" x="700" y="465" width="575" height="132"/><text class="big" x="733" y="561">Member_Pet</text>
<rect class="cap" x="1478" y="781" width="413" height="133"/><text class="big" x="1511" y="876">Member</text>
<rect class="cap" x="2318" y="210" width="253" height="133"/><text class="big" x="2351" y="307">Crew</text>
<rect class="cap" x="120.5" y="1293" width="471.5" height="133"/><text class="big" x="154" y="1390">Challenge</text>
<rect class="cap" x="1019" y="1726" width="433" height="133"/><text class="big" x="1052" y="1822">Plogging</text>
</g>
</svg>
